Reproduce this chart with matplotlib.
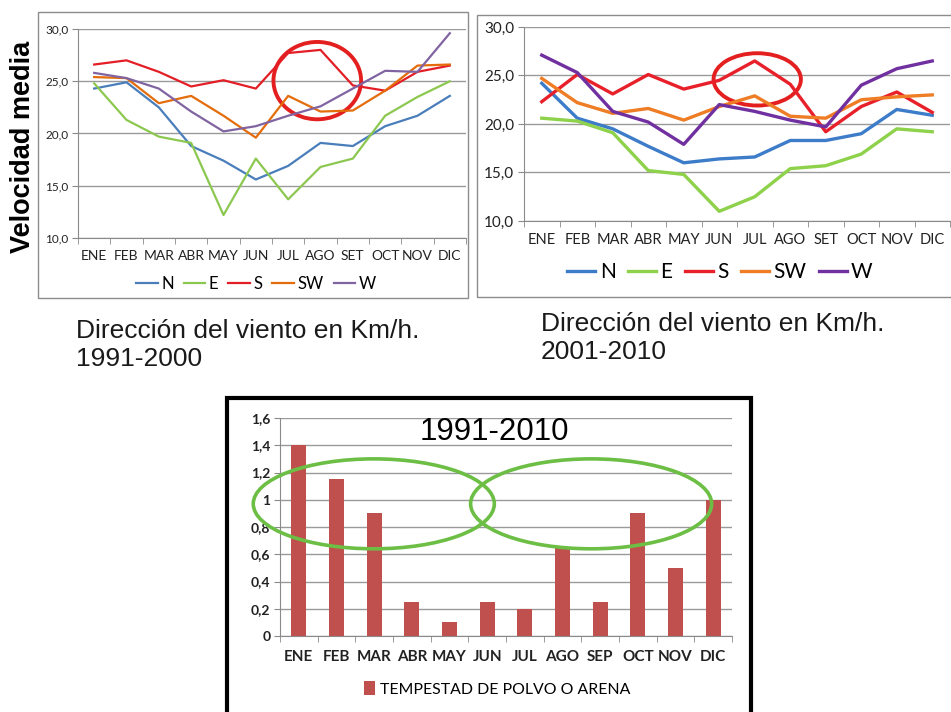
import numpy as np
import matplotlib.pyplot as plt
from matplotlib.patches import Ellipse, Rectangle

# month labels
meses = ['ENE', 'FEB', 'MAR', 'ABR', 'MAY', 'JUN', 'JUL', 'AGO', 'SET', 'OCT', 'NOV', 'DIC']
meses_b = ['ENE', 'FEB', 'MAR', 'ABR', 'MAY', 'JUN', 'JUL', 'AGO', 'SEP', 'OCT', 'NOV', 'DIC']
direcciones = ['N', 'E', 'S', 'SW', 'W']

# mean wind speed (km/h) by direction, 1991-2000
n_91 = [24.3, 24.9, 22.5, 18.8, 17.4, 15.6, 16.9, 19.1, 18.8, 20.7, 21.7, 23.6]
e_91 = [24.8, 21.3, 19.7, 19.1, 12.2, 17.6, 13.7, 16.8, 17.6, 21.7, 23.5, 25.0]
s_91 = [26.6, 27.0, 25.9, 24.5, 25.1, 24.3, 27.7, 28.0, 24.6, 24.1, 25.9, 26.5]
sw_91 = [25.4, 25.3, 22.9, 23.6, 21.7, 19.6, 23.6, 22.1, 22.2, 24.1, 26.5, 26.6]
w_91 = [25.8, 25.3, 24.3, 22.1, 20.2, 20.7, 21.7, 22.6, 24.3, 26.0, 25.9, 29.6]

# mean wind speed (km/h) by direction, 2001-2010
n_01 = [24.2, 20.6, 19.5, 17.7, 16.0, 16.4, 16.6, 18.3, 18.3, 19.0, 21.5, 20.9]
e_01 = [20.6, 20.3, 19.1, 15.2, 14.8, 11.0, 12.5, 15.4, 15.7, 16.9, 19.5, 19.2]
s_01 = [22.3, 25.1, 23.1, 25.1, 23.6, 24.5, 26.5, 24.1, 19.2, 21.8, 23.3, 21.2]
sw_01 = [24.7, 22.2, 21.1, 21.6, 20.4, 21.8, 22.9, 20.8, 20.6, 22.5, 22.8, 23.0]
w_01 = [27.1, 25.3, 21.3, 20.2, 17.9, 22.0, 21.3, 20.4, 19.7, 24.0, 25.7, 26.5]

# dust / sand storms per month, 1991-2010
tempestad = [1.4, 1.15, 0.9, 0.25, 0.1, 0.25, 0.2, 0.65, 0.25, 0.9, 0.5, 1.0]

W, H = 951, 712
fig = plt.figure(figsize=(W / 100, H / 100), dpi=100)
fig.patch.set_facecolor('white')

LAB = ['Lato', 'DejaVu Sans']
ARIAL = ['Liberation Sans', 'DejaVu Sans']


def px_rect(x0, y0, x1, y1, **kw):
    fig.patches.append(Rectangle((x0 / W, 1 - y1 / H), (x1 - x0) / W, (y1 - y0) / H,
                                 transform=fig.transFigure, fill=False, **kw))


def excel_axes(ax, ylim, yticks, ylabelsize, xlabelsize, xlabels, fmt, weight='normal'):
    ax.set_xlim(-0.5, 11.5)
    ax.set_ylim(*ylim)
    ax.set_yticks(yticks)
    ax.set_yticklabels([fmt(v) for v in yticks], fontsize=ylabelsize, family=LAB,
                       color='#222222', fontweight=weight)
    ax.set_xticks(np.arange(12))
    ax.set_xticklabels(xlabels, fontsize=xlabelsize, family=LAB, color='#222222',
                       fontweight=weight)
    ax.set_xticks(np.arange(-0.5, 12, 1), minor=True)
    ax.tick_params(axis='x', which='major', length=0, pad=9)
    ax.tick_params(axis='x', which='minor', length=4, color='#8a8a8a', direction='out')
    ax.tick_params(axis='y', length=4, color='#8a8a8a', direction='out', pad=3)
    ax.grid(axis='y', color='#9a9a9a', lw=1)
    ax.set_axisbelow(True)
    for s in ['top', 'right']:
        ax.spines[s].set_visible(False)
    ax.spines['left'].set_color('#8a8a8a')
    ax.spines['bottom'].set_color('#8a8a8a')


x = np.arange(12)
fmt1 = lambda v: f'{v:.1f}'.replace('.', ',')

# ---- 1991-2000 ----
px_rect(38, 12, 468, 298, edgecolor='#8c8c8c', lw=1)
ax1 = fig.add_axes([78 / W, 1 - 238 / H, (466 - 78) / W, (238 - 29) / H])
cols1 = ['#4a7ebb', '#8cc850', '#e41e26', '#e46c0a', '#8064a2']
for serie, c, lab in zip([n_91, e_91, s_91, sw_91, w_91], cols1, direcciones):
    ax1.plot(x, serie, color=c, lw=1.6, label=lab)
excel_axes(ax1, (10, 30), [10, 15, 20, 25, 30], 8.5, 10, meses, fmt1)
ax1.add_patch(Ellipse((6.9, 25.06), 2.71, 7.4, fill=False, ec='#e3201f', lw=2.8, clip_on=False))
ax1.legend(loc='center', bbox_to_anchor=(256 / W, 1 - 284 / H), bbox_transform=fig.transFigure,
           ncol=5, frameon=False, prop={'family': LAB, 'size': 12}, handlelength=1.3,
           handletextpad=0.2, columnspacing=0.6)
fig.text(23 / W, 1 - 147 / H, 'Velocidad media', rotation=90, ha='center', va='center',
         fontsize=19.5, fontweight='bold', family=ARIAL)
# caption: baseline of the last line
fig.text(76 / W, 1 - 366 / H, 'Dirección del viento en Km/h.\n1991-2000', ha='left', va='baseline',
         fontsize=19, family=ARIAL, linespacing=1.2, color='#1a1a1a')

# ---- 2001-2010 ----
px_rect(477, 15, 960, 297, edgecolor='#8c8c8c', lw=1)
ax2 = fig.add_axes([524 / W, 1 - 221 / H, (950 - 524) / W, (221 - 27) / H])
cols2 = ['#3d7cc9', '#8ed14a', '#e8202a', '#ee7d25', '#7030a0']
for serie, c, lab in zip([n_01, e_01, s_01, sw_01, w_01], cols2, direcciones):
    ax2.plot(x, serie, color=c, lw=2.4, label=lab)
excel_axes(ax2, (10, 30), [10, 15, 20, 25, 30], 11, 10.5, meses, fmt1)
ax2.add_patch(Ellipse((6.07, 24.6), 2.46, 5.39, fill=False, ec='#e3201f', lw=2.8, clip_on=False))
ax2.legend(loc='center', bbox_to_anchor=(720 / W, 1 - 272 / H), bbox_transform=fig.transFigure,
           ncol=5, frameon=False, prop={'family': LAB, 'size': 15}, handlelength=1.35,
           handletextpad=0.2, columnspacing=0.6)
fig.text(541 / W, 1 - 359 / H, 'Dirección del viento en Km/h.\n2001-2010', ha='left', va='baseline',
         fontsize=19, family=ARIAL, linespacing=1.2, color='#1a1a1a')

# ---- tempestades 1991-2010 ----
px_rect(227, 398, 751, 730, edgecolor='black', lw=3)
ax3 = fig.add_axes([280 / W, 1 - 636 / H, (732 - 280) / W, (636 - 418) / H])
ax3.bar(x, tempestad, width=0.39, color='#c0504d', label='TEMPESTAD DE POLVO O ARENA', zorder=2)
yt = [0, 0.2, 0.4, 0.6, 0.8, 1, 1.2, 1.4, 1.6]
fmt3 = lambda v: ('%g' % v).replace('.', ',')
excel_axes(ax3, (0, 1.6), yt, 10, 11, meses_b, fmt3, weight='bold')
ax3.tick_params(axis='x', which='major', pad=10)
ax3.text(5.2, 1.5, '1991-2010', ha='center', va='center', fontsize=22.5, family=ARIAL)
for cx in [1.99, 7.76]:
    ax3.add_patch(Ellipse((cx, 0.97), 6.4, 0.66, fill=False, ec='#6cbe45', lw=2.6,
                          clip_on=False, zorder=3))
ax3.legend(loc='center', bbox_to_anchor=(497 / W, 1 - 689 / H), bbox_transform=fig.transFigure,
           frameon=False, prop={'family': LAB, 'size': 11.4}, handlelength=0.7, handleheight=0.9,
           handletextpad=0.3)

fig.savefig('out.png', dpi=100)
